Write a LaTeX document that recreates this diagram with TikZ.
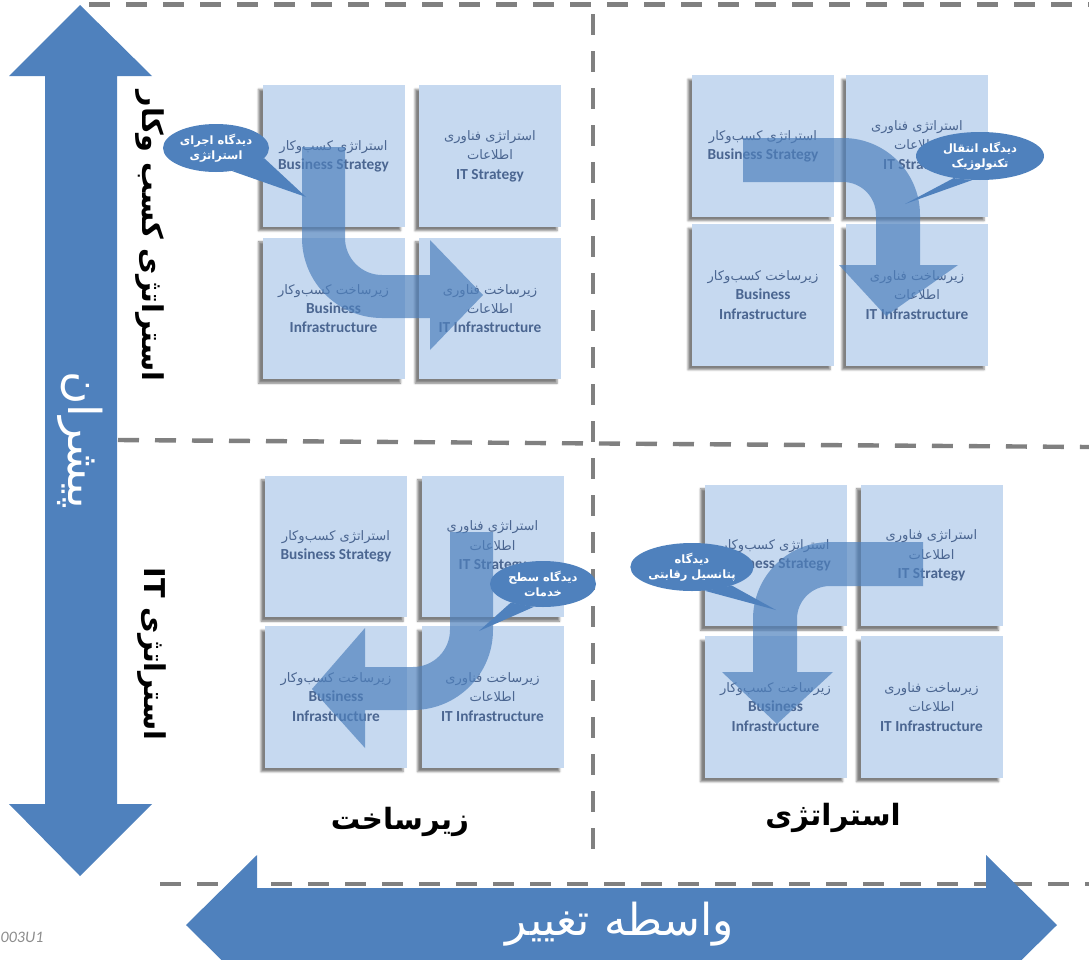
\documentclass[tikz,border=0pt]{standalone}
\usepackage{fontspec}
\setmainfont{Carlito}
\newfontfamily\farsifont[Script=Arabic]{DejaVu Sans}
\TeXXeTstate=1
\usetikzlibrary{shapes.geometric,shadows.blur}
\definecolor{sqfill}{RGB}{198,217,240}
\definecolor{sqtext}{RGB}{75,102,145}
\definecolor{mainblue}{RGB}{79,129,189}
\definecolor{dashgray}{RGB}{128,128,128}
\newcommand{\fl}[1]{{\farsifont\beginR #1\endR}}
\newcommand{\en}[1]{{\fontsize{11.5}{14.5}\selectfont\bfseries #1}}
\begin{document}
\begin{tikzpicture}[x=0.75pt,y=-0.75pt,
  sq/.style={fill=sqfill, minimum width=106.5pt, minimum height=106pt, inner sep=0pt,
    align=center, text=sqtext, font=\fontsize{9.8}{14.5}\selectfont,
    blur shadow={shadow xshift=-3pt, shadow yshift=-3pt, shadow blur radius=1.5pt, shadow opacity=50}},
  divider/.style={draw=dashgray, line width=3.3pt, dash pattern=on 15.75pt off 12pt},
  bigarrow/.style={fill=mainblue, fill opacity=0.7},
  bubble/.style={ellipse, fill=mainblue, inner sep=0pt, text=white, align=center,
    font=\fontsize{8.6}{11.5}\selectfont\bfseries},
  pointer/.style={fill=mainblue},
  sidelabel/.style={rotate=-90, font=\fontsize{21.5}{25}\selectfont\bfseries, text=black},
  axislabel/.style={font=\fontsize{22}{25}\selectfont\bfseries, text=black},
]
\useasboundingbox (0,0) rectangle (1089,960);
\begin{scope}
\clip (0,0) rectangle (1089,960);
% dashed dividers
\draw[divider] (89,4.5) -- (1089,4.5);
\draw[divider] (118,440) -- (1089,447);
\draw[divider] (160,884) -- (1089,884);
\draw[divider] (593,14) -- (593,858);
% left vertical double arrow
\fill[mainblue] (80,5) -- (152,76) -- (117,76) -- (117,804) -- (152,804) -- (80,876)
  -- (9,804) -- (45,804) -- (45,76) -- (9,76) -- cycle;
% bottom horizontal double arrow
\fill[mainblue] (186,925) -- (257,855) -- (257,888) -- (986,888) -- (986,855) -- (1057,925)
  -- (986,995) -- (986,962) -- (257,962) -- (257,995) -- cycle;
\node[rotate=-90, text=white, font=\fontsize{34}{36}\selectfont] (driver) at (80,440) {\fl{پیشران}};
\node[text=white, font=\fontsize{33}{36}\selectfont] (change) at (620,924) {\fl{واسطه تغییر}};
\node[sidelabel] (lblbiz) at (150,236) {\fl{استراتژی کسب وکار}};
\node[sidelabel] (lblit) at (152,654) {\fl{استراتژی \beginL IT\endL}};
\node[axislabel] (infra) at (400,822) {\fl{زیرساخت}};
\node[axislabel] (strat) at (833,818) {\fl{استراتژی}};
\node[anchor=west, text=black!45, font=\fontsize{12}{14}\selectfont\itshape] (code) at (-4,937) {003U1};
% ---------- Quadrant 1 (top-left)
\node[sq] (q1a) at (333.5,156) {\fl{استراتژی کسب‌وکار}\\\en{Business Strategy}};
\node[sq] (q1b) at (490,156) {\fl{استراتژی فناوری}\\\fl{اطلاعات}\\\en{IT Strategy}};
\node[sq] (q1c) at (333.5,308.5) {\fl{زیرساخت کسب‌وکار}\\\en{Business}\\\en{Infrastructure}};
\node[sq] (q1d) at (490,308.5) {\fl{زیرساخت فناوری}\\\fl{اطلاعات}\\\en{IT Infrastructure}};
% ---------- Quadrant 2 (top-right)
\node[sq] (q2a) at (763,146) {\fl{استراتژی کسب‌وکار}\\\en{Business Strategy}};
\node[sq] (q2b) at (917,146) {\fl{استراتژی فناوری}\\\fl{اطلاعات}\\\en{IT Strategy}};
\node[sq] (q2c) at (763,295) {\fl{زیرساخت کسب‌وکار}\\\en{Business}\\\en{Infrastructure}};
\node[sq] (q2d) at (917,295) {\fl{زیرساخت فناوری}\\\fl{اطلاعات}\\\en{IT Infrastructure}};
% ---------- Quadrant 3 (bottom-left)
\node[sq] (q3a) at (336,546.5) {\fl{استراتژی کسب‌وکار}\\\en{Business Strategy}};
\node[sq] (q3b) at (492.5,546.5) {\fl{استراتژی فناوری}\\\fl{اطلاعات}\\\en{IT Strategy}};
\node[sq] (q3c) at (336,697) {\fl{زیرساخت کسب‌وکار}\\\en{Business}\\\en{Infrastructure}};
\node[sq] (q3d) at (492.5,697) {\fl{زیرساخت فناوری}\\\fl{اطلاعات}\\\en{IT Infrastructure}};
% ---------- Quadrant 4 (bottom-right)
\node[sq] (q4a) at (775.5,555.5) {\fl{استراتژی کسب‌وکار}\\\en{Business Strategy}};
\node[sq] (q4b) at (931.5,555.5) {\fl{استراتژی فناوری}\\\fl{اطلاعات}\\\en{IT Strategy}};
\node[sq] (q4c) at (775.5,707) {\fl{زیرساخت کسب‌وکار}\\\en{Business}\\\en{Infrastructure}};
\node[sq] (q4d) at (931.5,707) {\fl{زیرساخت فناوری}\\\fl{اطلاعات}\\\en{IT Infrastructure}};
% ---------- big bent arrows
\fill[bigarrow] (345,147) -- (302,147) -- (302,238) .. controls (302,282.2) and (337.8,318) .. (382,318)
  -- (430,318) -- (430,350) -- (483,295) -- (430,240) -- (430,275) -- (382,275)
  .. controls (361.6,275) and (345,258.4) .. (345,238) -- cycle;
\fill[bigarrow] (743,138) -- (843,138) .. controls (885.5,138) and (920,172.5) .. (920,215)
  -- (920,265) -- (958,265) -- (886,316) -- (839,265) -- (876,265) -- (876,215)
  .. controls (876,196.8) and (861.2,182) .. (843,182) -- (743,182) -- cycle;
\fill[bigarrow] (450,532) -- (493,532) -- (493,630) .. controls (493,674.2) and (457.2,710) .. (413,710)
  -- (365,710) -- (365,748) -- (312,689) -- (365,628) -- (365,667) -- (413,667)
  .. controls (433.4,667) and (450,650.4) .. (450,630) -- cycle;
\fill[bigarrow] (923,542) -- (830,542) .. controls (787.5,542) and (753,576.5) .. (753,619)
  -- (753,672) -- (722,672) -- (777,724) -- (833,672) -- (797,672) -- (797,619)
  .. controls (797,600.8) and (811.8,586) .. (830,586) -- (923,586) -- cycle;
% ---------- speech bubbles
\coordinate (t1) at (306,197);
\coordinate (t2) at (905,204);
\coordinate (t3) at (479,631);
\coordinate (t4) at (776,610);
\node[bubble, minimum width=79.5pt, minimum height=36pt] (b1) at (216,148) {\fl{دیدگاه اجرای}\\\fl{استراتژی}};
\fill[pointer] (b1.-12) -- (t1) -- (b1.-55) -- cycle;
\node[bubble, minimum width=96pt, minimum height=36pt] (b2) at (980,156) {\fl{دیدگاه انتقال}\\\fl{تکنولوژیک}};
\fill[pointer] (b2.-140) -- (t2) -- (b2.-108) -- cycle;
\node[bubble, minimum width=79.5pt, minimum height=34.5pt] (b3) at (543,584) {\fl{دیدگاه سطح}\\\fl{خدمات}};
\fill[pointer] (b3.-150) -- (t3) -- (b3.-112) -- cycle;
\node[bubble, minimum width=84pt, minimum height=36pt] (b4) at (692,567) {\fl{دیدگاه}\\\fl{پتانسیل رقابتی}};
\fill[pointer] (b4.-62) -- (t4) -- (b4.-25) -- cycle;
\end{scope}
\end{tikzpicture}
\end{document}
